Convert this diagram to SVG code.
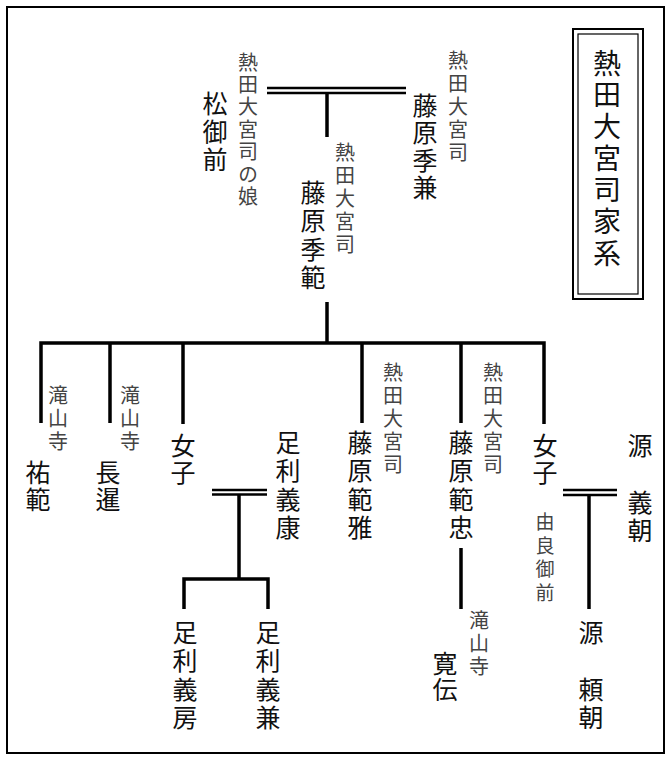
<svg xmlns="http://www.w3.org/2000/svg" width="671" height="761" viewBox="0 0 671 761">
<style>
text{font-family:"Noto Sans CJK JP","Noto Sans CJK SC",sans-serif;writing-mode:vertical-rl;text-anchor:start}
.big{font-size:25px;fill:#111}
.sm{font-size:20px;fill:#444}
.title{font-size:28px;fill:#111}
.ln{stroke:#000;stroke-width:3.5;fill:none}
.dbl{stroke:#000;stroke-width:2.5;fill:none}
</style>
<rect width="671" height="761" fill="#fff"/>
<rect x="7" y="7" width="657" height="746" fill="none" stroke="#000" stroke-width="2"/>
<g id="title">
<rect x="573" y="29" width="70" height="270" fill="none" stroke="#000" stroke-width="2"/>
<rect x="578" y="34" width="60" height="260" fill="none" stroke="#000" stroke-width="1.2"/>
<text class="title" x="607" y="49" letter-spacing="3.7">熱田大宮司家系</text>
</g>
<g id="connectors">
<line class="dbl" x1="267" y1="88" x2="406" y2="88"/>
<line class="dbl" x1="267" y1="93" x2="406" y2="93"/>
<line class="ln" x1="327" y1="93" x2="327" y2="137"/>
<line class="ln" x1="327" y1="302" x2="327" y2="343"/>
<path class="ln" d="M41,423 V343 H544 V424"/>
<line class="ln" x1="110" y1="343" x2="110" y2="423"/>
<line class="ln" x1="183" y1="343" x2="183" y2="424"/>
<line class="ln" x1="362" y1="343" x2="362" y2="423"/>
<line class="ln" x1="461" y1="343" x2="461" y2="423"/>
<line class="dbl" x1="212" y1="490" x2="267" y2="490"/>
<line class="dbl" x1="212" y1="494.5" x2="267" y2="494.5"/>
<line class="ln" x1="239" y1="494" x2="239" y2="579"/>
<path class="ln" d="M184,609 V579 H268 V609"/>
<line class="ln" x1="461" y1="548" x2="461" y2="609"/>
<line class="dbl" x1="563" y1="490" x2="617" y2="490"/>
<line class="dbl" x1="563" y1="495" x2="617" y2="495"/>
<line class="ln" x1="589" y1="495" x2="589" y2="609"/>
</g>
<g id="matsu-gozen">
<text class="sm" x="248" y="52" letter-spacing="2.4">熱田大宮司の娘</text>
<text class="big" x="215" y="90.5" letter-spacing="3">松御前</text>
</g>
<g id="suekane">
<text class="sm" x="458" y="50" letter-spacing="3">熱田大宮司</text>
<text class="big" x="425" y="92.5" letter-spacing="2.5">藤原季兼</text>
</g>
<g id="suenori">
<text class="sm" x="345" y="142" letter-spacing="3">熱田大宮司</text>
<text class="big" x="313" y="179.5" letter-spacing="3.5">藤原季範</text>
</g>
<g id="yuhan">
<text class="sm" x="58" y="385" letter-spacing="3">滝山寺</text>
<text class="big" x="38" y="459.5" letter-spacing="2">祐範</text>
</g>
<g id="chosen">
<text class="sm" x="130" y="385" letter-spacing="3">滝山寺</text>
<text class="big" x="108" y="459.5" letter-spacing="2">長暹</text>
</g>
<g id="joshi1">
<text class="big" x="183" y="432.5" letter-spacing="2">女子</text>
</g>
<g id="yoshiyasu">
<text class="big" x="288" y="429.5" letter-spacing="3.5">足利義康</text>
</g>
<g id="norimasa">
<text class="sm" x="393" y="362" letter-spacing="3">熱田大宮司</text>
<text class="big" x="360" y="429.5" letter-spacing="3.5">藤原範雅</text>
</g>
<g id="noritada">
<text class="sm" x="493" y="362" letter-spacing="3">熱田大宮司</text>
<text class="big" x="461" y="429.5" letter-spacing="3.5">藤原範忠</text>
</g>
<g id="yura-gozen">
<text class="big" x="545" y="432.5" letter-spacing="2">女子</text>
<text class="sm" x="545" y="512.5" letter-spacing="4.5" style="font-size:19px">由良御前</text>
</g>
<g id="yoshitomo">
<text class="big" x="640" y="432.5" letter-spacing="3.5">源　義朝</text>
</g>
<g id="yoshifusa">
<text class="big" x="185" y="619.5" letter-spacing="3.5">足利義房</text>
</g>
<g id="yoshikane">
<text class="big" x="268" y="619.5" letter-spacing="3.5">足利義兼</text>
</g>
<g id="kanden">
<text class="sm" x="479" y="610" letter-spacing="3">滝山寺</text>
<text class="big" x="445" y="650.5" letter-spacing="1">寛伝</text>
</g>
<g id="yoritomo">
<text class="big" x="591" y="619.5" letter-spacing="3.5">源　頼朝</text>
</g>
</svg>
